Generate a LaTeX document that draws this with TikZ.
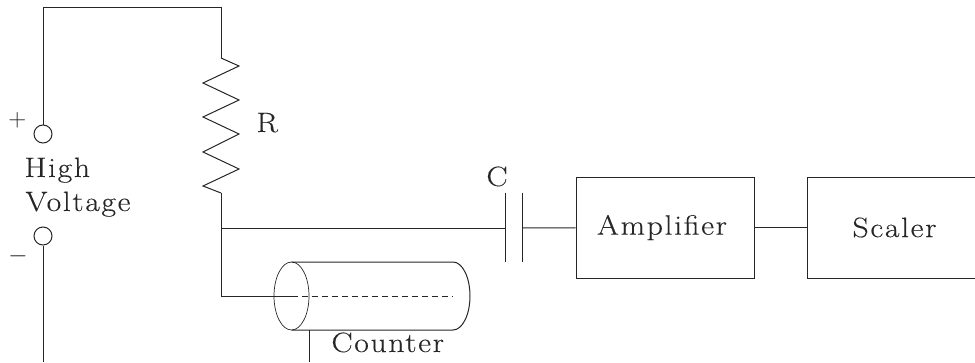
\documentclass[tikz,border=0pt]{standalone}
\usepackage{fontspec}
\setmainfont[LetterSpace=6,FakeBold=0.2,FakeStretch=1.13]{Latin Modern Roman}
\usepackage{tikz}
\usetikzlibrary{arrows}

\begin{document}
\begin{tikzpicture}[x=1pt,y=-1pt,line width=1pt,color=black!85,
                    box node/.style={rectangle,draw,minimum width=178pt,minimum height=101pt,inner sep=0pt,font=\fontsize{28}{28}\selectfont},
                    term node/.style={circle,draw,minimum size=18pt,inner sep=0pt},
                    label node/.style={inner sep=0pt,anchor=base west,font=\fontsize{28}{28}\selectfont},
                    thin line/.style={line width=0.7pt}]
  \useasboundingbox (0,0) rectangle (975,362);

  \node[term node] (plus) at (43,134) {};
  \node[term node] (minus) at (43,236) {};
  \node[box node] (amp) at (665,227.5) {Amplifier\hspace*{6pt}};
  \node[box node,minimum width=175pt] (scaler) at (894.5,227.5) {Scaler};

  \coordinate (topleft) at (43,7);
  \coordinate (topright) at (221,7);
  \coordinate (rtop) at (221,58);
  \coordinate (rbot) at (221,193);
  \coordinate (junction) at (221,228);
  \coordinate (elbow) at (221,296);
  \coordinate (minusend) at (43,362);
  \coordinate (plateA) at (505,228);
  \coordinate (plateB) at (522,228);
  \coordinate (axis) at (291.5,296);
  \coordinate (axisend) at (453,296);
  \coordinate (cylfoot) at (309,330);
  \coordinate (footend) at (309,362);

  % wires
  \draw (plus) -- (topleft) -- (topright) -- (rtop);
  \draw (minus) -- (minusend);
  \draw (rbot) -- (elbow) -- (axis);
  \draw (junction) -- (plateA);
  \draw (plateB) -- (amp);
  \draw (amp) -- (scaler);
  \draw (cylfoot) -- (footend);

  % resistor
  \draw (rtop) -- (239,66) -- (203,83) -- (239,100) -- (203,117) -- (239,134)
        -- (203,152) -- (239,169) -- (203,186) -- (rbot);

  % capacitor
  \draw (505,193) -- (505,262);
  \draw (522,193) -- (522,262);

  % counter
  \draw[thin line] (axis) ellipse (17.5 and 34);
  \draw (291.5,262) -- (453,262) arc (-90:90:17 and 34) -- (291.5,330);
  \draw[dash pattern=on 6pt off 4pt] (axis) -- (axisend);

  \node[label node] (plussign) at (8,126) {$+$};
  \node[label node] (minussign) at (8,262) {$-$};
  \node[label node] (high) at (24,177) {High};
  \node[label node] (voltage) at (25,211) {Voltage};
  \node[label node] (rlabel) at (256,132) {R};
  \node[label node] (clabel) at (486,186) {C};
  \node[label node] (counter) at (331,352) {Counter};
\end{tikzpicture}
\end{document}
